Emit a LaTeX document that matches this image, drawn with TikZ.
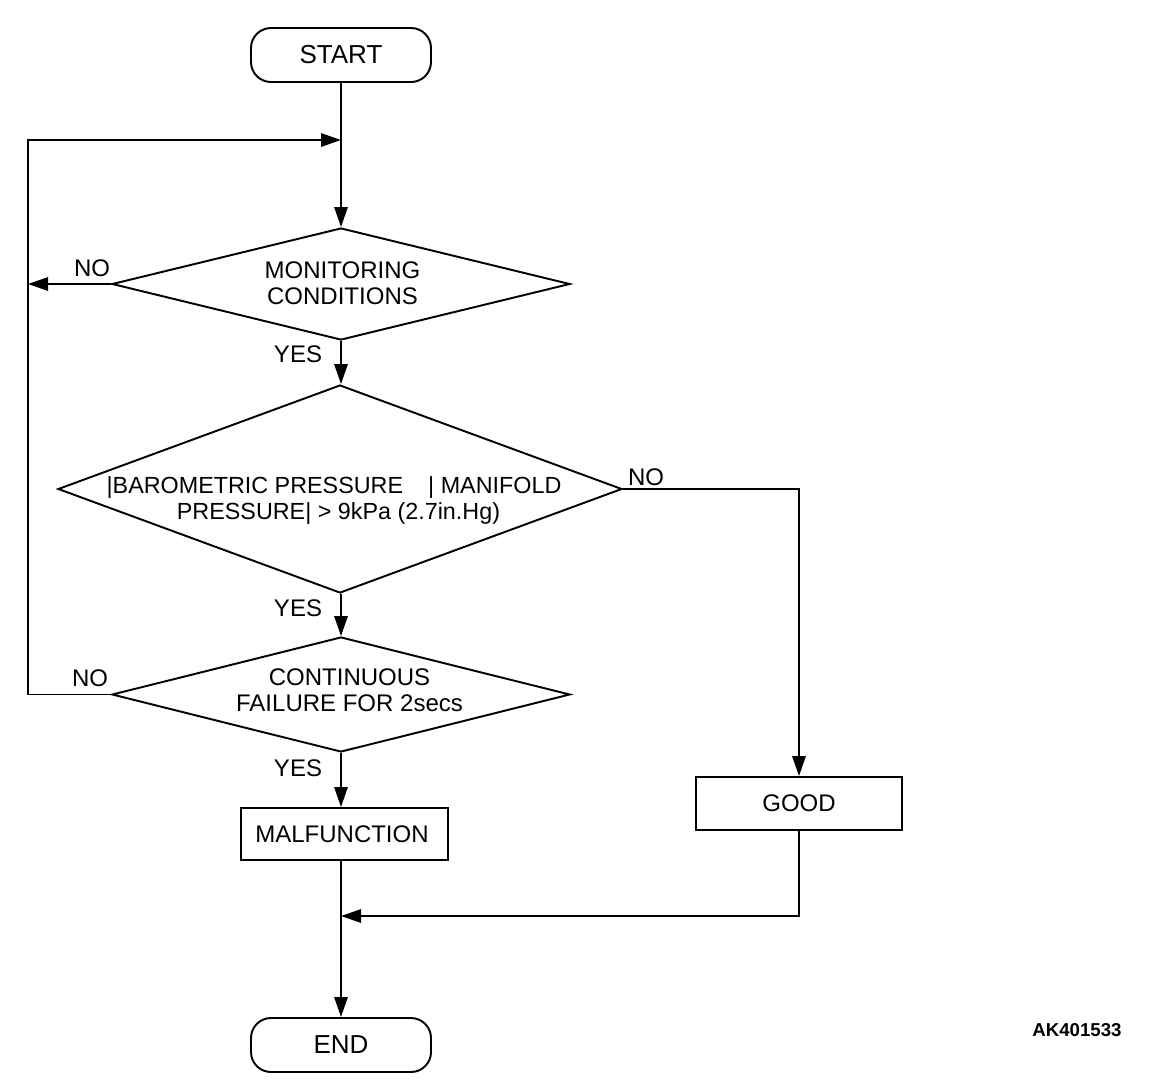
\documentclass[tikz,border=0pt]{standalone}
\usepackage{fontspec}
\setmainfont{Liberation Sans}
\usetikzlibrary{shapes.geometric,arrows.meta}
\begin{document}
\begin{tikzpicture}[x=0.75pt,y=-0.75pt, line width=1.45pt,
 every node/.style={font=\fontsize{18}{19.5}\selectfont, inner sep=0pt},
 term/.style={draw, rounded corners=15pt, minimum width=135pt, minimum height=40.5pt, font=\fontsize{19.5}{21}\selectfont},
 proc/.style={draw, minimum height=39pt},
 dia/.style={draw, diamond, inner sep=0pt},
 arr/.style={-{Triangle[length=15pt,width=10pt]}},
]
\useasboundingbox (0,0) rectangle (1152,1090);

\node[term] (start) at (341,55) {START};
\node[dia, minimum width=343.5pt, minimum height=84pt] (d1) at (341,284) {};
\node[align=center] (t1) at (342.5,283) {MONITORING\\CONDITIONS};
\node[dia, minimum width=423pt, minimum height=156pt] (d2) at (340,489) {};
\node[align=center, font=\fontsize{17.5}{19.5}\selectfont] (t2) at (338.5,501) {|BAROMETRIC PRESSURE \hspace{0.8em}| MANIFOLD\hspace*{6.75pt}\\PRESSURE| > 9kPa (2.7in.Hg)};
\node[dia, minimum width=343.5pt, minimum height=86.25pt] (d3) at (341,694.5) {};
\node[align=center] (t3) at (349.5,690.5) {CONTINUOUS\\FAILURE FOR 2secs};
\node[proc, minimum width=155.25pt] (mal) at (344.5,834) {};
\node (tm) at (342,834) {MALFUNCTION};
\node[proc, minimum width=154.5pt, minimum height=39.75pt] (good) at (799,803.5) {GOOD};
\node[term] (end) at (341,1045) {END};

\node (no1) at (92,268) {NO};
\node (yes1) at (298,354) {YES};
\node (no2) at (646,477) {NO};
\node (yes2) at (298,608) {YES};
\node (no3) at (90,678) {NO};
\node (yes3) at (298,768) {YES};
\node[font=\bfseries\fontsize{14}{16}\selectfont] (code) at (1077,1030) {AK401533};

\coordinate (lt) at (28,140);
\coordinate (jt) at (341,140);
\coordinate (jb) at (341,916);

\draw[arr] (start.south) -- (d1.north);
\draw[arr] (d1.south) -- (d2.north -| d1.south);
\draw[arr] (d2.south -| d1.south) -- (d3.north);
\draw[arr] (d3.south) -- (d3.south |- mal.north);
\draw[arr] (d3.south |- mal.south) -- (end.north);
\draw[arr] (d3.west) -- (d3.west -| lt) -- (lt) -- (jt);
\draw[arr] (d1.west) -- (d1.west -| lt);
\draw[arr] (d2.east) -- (d2.east -| good.north) -- (good.north);
\draw[arr] (good.south) -- (good.south |- jb) -- (jb);
\end{tikzpicture}
\end{document}
